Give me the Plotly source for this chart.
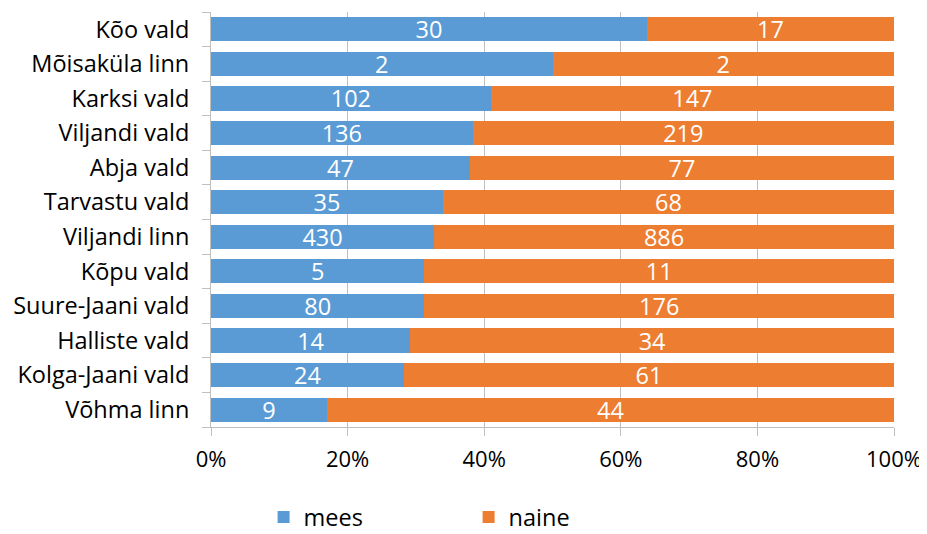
import plotly.graph_objects as go

categories = ["Kõo vald", "Mõisaküla linn", "Karksi vald", "Viljandi vald", "Abja vald",
              "Tarvastu vald", "Viljandi linn", "Kõpu vald", "Suure-Jaani vald",
              "Halliste vald", "Kolga-Jaani vald", "Võhma linn"]
mees = [30, 2, 102, 136, 47, 35, 430, 5, 80, 14, 24, 9]
naine = [17, 2, 147, 219, 77, 68, 886, 11, 176, 34, 61, 44]
x_ticks = [0, 20, 40, 60, 80, 100]
x_ticklabels = ["0%", "20%", "40%", "60%", "80%", "100%"]

FONT = "'Open Sans', sans-serif"
FS = 23.5

fig = go.Figure()
for name, vals, col in [("mees", mees, "#5B9BD5"), ("naine", naine, "#ED7D31")]:
    fig.add_trace(go.Bar(
        y=categories, x=vals, name=name, orientation="h",
        marker=dict(color=col, line=dict(width=0)),
        text=[str(v) for v in vals], textposition="inside", insidetextanchor="middle",
        textangle=0, constraintext="none",
        textfont=dict(color="white", size=FS, family=FONT),
    ))

fig.update_layout(
    barmode="stack", barnorm="percent", bargap=0.3,
    width=919, height=526,
    margin=dict(l=203, r=33, t=4, b=107, autoexpand=False),
    plot_bgcolor="white", paper_bgcolor="white",
    font=dict(family=FONT, size=FS, color="black"),
    legend=dict(orientation="h", x=0.077, xanchor="left",
                yref="container", y=0.032, yanchor="middle",
                entrywidth=160, entrywidthmode="pixels",
                font=dict(size=FS, family=FONT), traceorder="normal"),
    showlegend=True,
)
fig.update_xaxes(
    range=[0, 100], tickvals=x_ticks, ticktext=x_ticklabels, automargin=False,
    showgrid=True, gridcolor="#BFBFBF", gridwidth=1,
    showline=True, linecolor="#BFBFBF", linewidth=1,
    ticks="outside", ticklen=8, tickcolor="#BFBFBF", ticklabelstandoff=5,
    tickfont=dict(size=22, family=FONT), zeroline=False,
)
fig.update_yaxes(
    categoryorder="array", categoryarray=categories[::-1], automargin=False,
    showline=True, linecolor="#BFBFBF", linewidth=1,
    ticks="outside", ticklen=8, tickcolor="#BFBFBF", tickson="boundaries",
    ticklabelstandoff=16,
    tickfont=dict(size=FS, family=FONT), showgrid=False,
)

fig.write_html("out.html")
